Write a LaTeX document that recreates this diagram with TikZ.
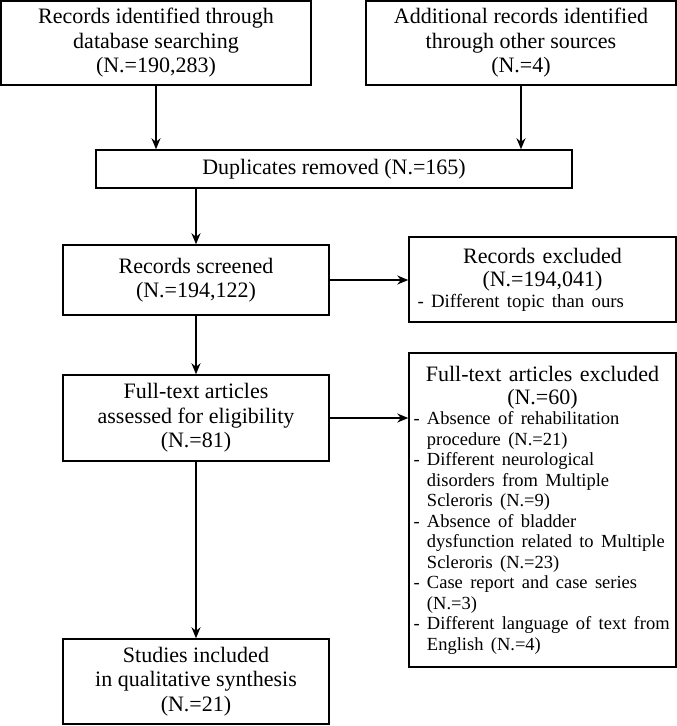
\documentclass[tikz,border=0pt]{standalone}
\usepackage{fontspec}
\setmainfont{Liberation Serif}
\usetikzlibrary{arrows.meta}

\begin{document}
\begin{tikzpicture}[x=1pt, y=-1pt,
  box/.style={draw, line width=1.5pt, inner sep=0pt, align=center, font=\fontsize{22}{24.5}\selectfont},
  sidebox/.style={draw, line width=1.5pt, inner xsep=4.5pt, inner ysep=0pt, text width=258pt, minimum width=267pt, font=\fontsize{22}{23}\selectfont},
  arr/.style={-{Stealth[length=11pt, width=9pt]}, line width=1.5pt}]
  \useasboundingbox (0,0) rectangle (677,726);

  % Identification
  \node[box, minimum width=310pt, minimum height=84pt] (dbase) at (156, 43) {Records identified through\\database searching\\(N.=190,283)};
  \node[box, minimum width=310pt, minimum height=84pt] (other) at (521, 43) {Additional records identified\\through other sources\\(N.=4)};
  \node[box, minimum width=476pt, minimum height=38pt] (dupl) at (334, 169) {Duplicates removed (N.=165)};
  \draw[arr] (dbase.south) -- (dbase.south |- dupl.north);
  \draw[arr] (other.south) -- (other.south |- dupl.north);

  % Screening
  \node[box, minimum width=266pt, minimum height=70pt] (screen) at (196, 280) {Records screened\\(N.=194,122)};
  \node[sidebox, minimum height=85pt] (recexcl) at (542.5, 279.5) {%
    {\centering Records excluded\\(N.=194,041)\par}
    {\raggedright\fontsize{18.8}{21}\selectfont \hspace*{4pt}- Different topic than ours\par}};
  \draw[arr] (dupl.south -| screen.north) -- (screen.north);
  \draw[arr] (screen.east) -- (screen.east -| recexcl.west);

  % Eligibility
  \node[box, minimum width=266pt, minimum height=86pt] (fulltext) at (196, 418) {Full-text articles\\assessed for eligibility\\(N.=81)};
  \node[sidebox, minimum height=314pt] (ftexcl) at (542.5, 510) {%
    {\centering Full-text articles excluded\\(N.=60)\par}
    {\raggedright\fontsize{18.5}{20.5}\selectfont
    - Absence of rehabilitation\\\hphantom{- }procedure (N.=21)\\
    - Different neurological\\\hphantom{- }disorders from Multiple\\\hphantom{- }Scleroris (N.=9)\\
    - Absence of bladder\\\hphantom{- }dysfunction related to Multiple\\\hphantom{- }Scleroris (N.=23)\\
    - Case report and case series\\\hphantom{- }(N.=3)\\
    - Different language of text from\\\hphantom{- }English (N.=4)\par}};
  \draw[arr] (screen) -- (fulltext);
  \draw[arr] (fulltext.east) -- (fulltext.east -| ftexcl.west);

  % Included
  \node[box, minimum width=266pt, minimum height=85pt] (studies) at (196, 681.5) {Studies included\\in qualitative synthesis\\(N.=21)};
  \draw[arr] (fulltext) -- (studies);
\end{tikzpicture}
\end{document}
